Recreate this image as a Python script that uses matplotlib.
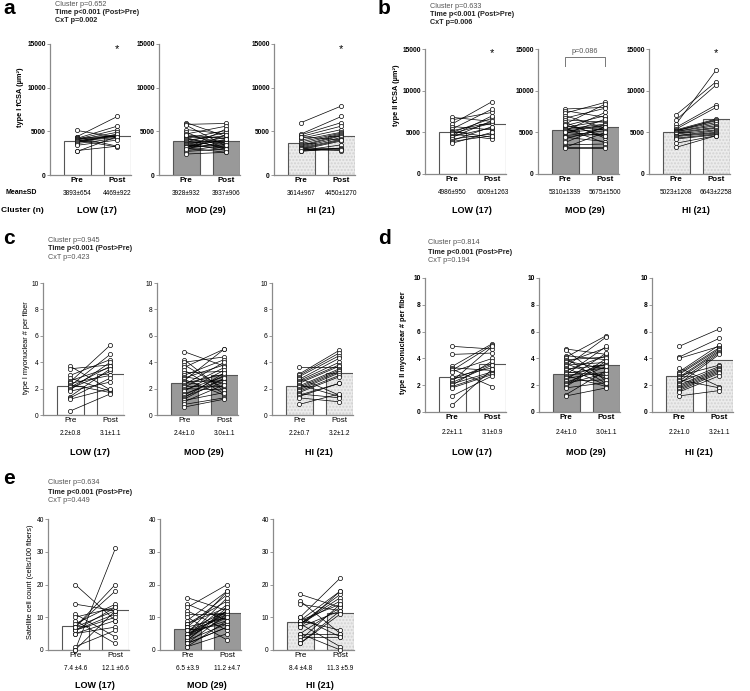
import matplotlib
matplotlib.use('Agg')
import matplotlib.pyplot as plt

plt.rcParams['font.family'] = ['Liberation Sans', 'DejaVu Sans']

W, H = 750, 691
fig = plt.figure(figsize=(7.5, 6.91), dpi=100)

clusters = ['LOW (17)', 'MOD (29)', 'HI (21)']
times = ['Pre', 'Post']

# ---- a: type I fCSA ----
a_low_pre = [5100, 4400, 4300, 4200, 4200, 4100, 4100, 4000, 4000, 3900, 3900, 3800, 3700, 3600, 2800, 2700, 3400]
a_low_post = [4300, 6700, 3300, 5600, 4500, 4400, 5200, 3200, 4900, 4600, 4300, 4500, 4700, 4200, 3300, 4400, 4000]
a_mod_pre = [6000, 5800, 5700, 5200, 4900, 4700, 4500, 4400, 4300, 4200, 4100, 4000, 3900, 3800, 3700,
             3600, 3500, 3400, 3300, 3200, 3100, 3000, 2900, 2800, 2700, 3200, 3000, 2400, 4600]
a_mod_post = [4400, 5900, 3300, 4700, 3000, 5600, 3700, 4200, 2900, 5100, 3600, 4500, 3200, 4900, 3900,
              2800, 4300, 3100, 4000, 3500, 2600, 3800, 4600, 3400, 3000, 4100, 5300, 2600, 4170]
a_hi_pre = [6000, 4700, 4600, 4400, 4200, 4000, 3800, 3600, 3400, 3300, 3200, 3100, 3000, 2900, 2800, 2700, 3100, 2900, 3000, 2800, 4400]
a_hi_post = [7900, 6700, 6000, 5600, 5200, 4900, 4800, 4700, 4600, 4500, 4300, 4100, 4000, 3900, 3450, 3100, 3000, 3000, 2800, 2900, 4000]
a_bar = [(3893, 4469), (3928, 3937), (3614, 4450)]
a_txt = [('3893\u00b1654', '4469\u00b1922'), ('3928\u00b1932', '3937\u00b1906'), ('3614\u00b1967', '4450\u00b11270')]

# ---- b: type II fCSA ----
b_low_pre = [6800, 6500, 6000, 5700, 5400, 5200, 5100, 5000, 4900, 4800, 4600, 4500, 4400, 4200, 4000, 3900, 3700]
b_low_post = [6300, 7400, 8700, 5300, 7800, 6200, 4400, 6700, 6100, 4200, 7000, 5560, 6400, 4800, 5700, 4600, 5000]
b_mod_pre = [7800, 7600, 7300, 7000, 6700, 6500, 6200, 6000, 5800, 5700, 5600, 5500, 5400, 5300, 5100,
             5000, 4800, 4600, 4400, 4200, 5200, 5000, 4500, 3500, 3790, 3300, 3200, 3100, 5900]
b_mod_post = [8000, 6800, 8600, 5500, 7900, 6200, 4300, 8400, 7000, 5300, 6400, 3700, 6000, 5800, 5900,
              4600, 6600, 5200, 3900, 5600, 7400, 5400, 4800, 3600, 5700, 3300, 5000, 3100, 4575]
b_hi_pre = [7100, 6500, 6000, 5600, 5400, 5300, 5200, 5200, 5200, 5100, 5100, 5000, 4900, 4800, 4600, 4600, 4500, 4300, 4200, 3700, 3200]
b_hi_post = [11100, 10700, 12500, 8300, 8000, 6600, 6500, 6400, 6200, 6000, 5800, 5600, 5500, 5300, 5200, 5000, 4900, 4800, 4700, 4600, 4600]
b_bar = [(4986, 6009), (5310, 5675), (5023, 6643)]
b_txt = [('4986\u00b1950', '6009\u00b11263'), ('5310\u00b11339', '5675\u00b11500'), ('5023\u00b11208', '6643\u00b12258')]

# ---- c: type I myonuclear ----
c_low_pre = [3.7, 3.5, 3.0, 2.8, 2.6, 2.5, 2.4, 2.3, 2.2, 2.1, 2.0, 1.9, 1.8, 1.4, 1.3, 1.2, 0.3]
c_low_post = [1.9, 3.8, 4.2, 1.8, 3.6, 5.3, 3.0, 1.7, 4.6, 3.7, 3.3, 4.0, 2.5, 3.5, 2.8, 2.0, 1.6]
c_mod_pre = [4.8, 4.2, 4.0, 3.8, 3.6, 3.4, 3.2, 3.0, 2.9, 2.8, 2.7, 2.6, 2.5, 2.4, 2.3,
             2.2, 2.1, 2.0, 1.9, 1.8, 1.6, 1.5, 1.4, 1.3, 1.2, 1.1, 1.0, 0.8, 0.6]
c_mod_post = [3.7, 1.8, 4.4, 2.0, 5.0, 1.6, 3.3, 4.2, 2.4, 3.8, 1.5, 5.0, 2.6, 3.1, 4.0,
              2.2, 3.6, 1.9, 2.9, 3.4, 2.7, 3.0, 2.5, 3.2, 2.8, 1.7, 2.3, 1.3, 1.2]
c_hi_pre = [3.6, 3.1, 3.0, 2.9, 2.8, 2.7, 2.6, 2.5, 2.4, 2.3, 2.2, 2.1, 2.0, 1.9, 1.8, 1.7, 1.6, 1.5, 1.4, 1.3, 0.8]
c_hi_post = [3.6, 4.9, 4.7, 4.5, 1.5, 4.3, 4.0, 3.8, 3.7, 1.4, 3.5, 3.4, 3.3, 3.2, 3.0, 2.9, 1.3, 2.4, 2.4, 1.0, 1.6]
c_bar = [(2.2, 3.1), (2.4, 3.0), (2.2, 3.2)]
c_txt = [('2.2\u00b10.8', '3.1\u00b11.1'), ('2.4\u00b11.0', '3.0\u00b11.1'), ('2.2\u00b10.7', '3.2\u00b11.2')]

# ---- d: type II myonuclear ----
d_low_pre = [4.9, 4.3, 3.4, 3.3, 3.2, 3.1, 3.0, 2.6, 2.4, 2.3, 2.2, 2.1, 2.0, 1.9, 1.8, 1.2, 0.5]
d_low_post = [4.7, 4.4, 5.1, 3.1, 1.9, 5.0, 4.0, 3.3, 3.6, 4.9, 3.5, 3.0, 3.8, 2.9, 2.8, 2.7, 3.2]
d_mod_pre = [4.7, 4.6, 4.2, 4.1, 4.0, 3.9, 3.8, 3.7, 3.6, 3.5, 3.4, 3.3, 3.2, 3.1, 3.0,
             2.9, 2.8, 2.7, 2.6, 2.5, 2.4, 2.3, 2.2, 2.1, 2.0, 1.9, 1.8, 1.3, 1.2]
d_mod_post = [4.3, 2.3, 3.9, 5.7, 2.1, 4.1, 3.2, 4.8, 2.5, 3.7, 5.6, 2.0, 3.5, 4.2, 2.7,
              3.3, 4.9, 1.9, 3.6, 3.0, 4.4, 2.4, 3.4, 2.9, 4.0, 3.8, 2.2, 3.1, 1.8]
d_hi_pre = [4.9, 4.1, 4.0, 3.3, 3.0, 2.9, 2.8, 2.7, 2.6, 2.5, 2.4, 2.3, 2.2, 2.1, 2.0, 1.9, 1.8, 1.7, 1.6, 1.5, 1.2]
d_hi_post = [6.2, 5.5, 4.9, 1.9, 5.0, 4.8, 4.7, 3.5, 4.6, 4.5, 1.8, 4.4, 3.4, 4.3, 3.3, 3.2, 3.1, 3.0, 2.9, 2.7, 1.6]
d_bar = [(2.6, 3.6), (2.85, 3.5), (2.7, 3.85)]
d_txt = [('2.2\u00b11.1', '3.1\u00b10.9'), ('2.4\u00b11.0', '3.0\u00b11.1'), ('2.2\u00b11.0', '3.2\u00b11.1')]

# ---- e: satellite cells ----
e_low_pre = [20, 14, 11, 10, 9, 8, 7, 7, 6, 6, 6, 5, 5, 1, 0, 0, 7]
e_low_post = [9, 12, 4, 13, 2, 14, 18, 20, 11, 10, 13, 7, 9, 6, 31, 12, 12]
e_mod_pre = [16, 14, 13, 12, 11, 10, 9, 8, 8, 7, 7, 6, 6, 5, 5, 5, 4, 4, 4, 3, 3, 3, 2, 2, 2, 1, 1, 6, 4]
e_mod_post = [12, 9, 20, 6, 11, 3, 18, 13, 15, 10, 17, 12, 8, 18, 11, 9, 14, 16, 10, 13, 12, 8, 7, 11, 7, 5, 9, 10, 12]
e_hi_pre = [17, 15, 14, 10, 10, 9, 9, 9, 8, 8, 8, 8, 7, 7, 5, 5, 5, 4, 3, 2, 2]
e_hi_post = [13, 5, 12, 22, 4, 18, 6, 14, 17, 16, 1, 15, 12, 18, 5, 0, 13, 4, 14, 12, 11]
e_bar = [(7.4, 12.1), (6.5, 11.2), (8.4, 11.3)]
e_txt = [('7.4 \u00b14.6', '12.1 \u00b16.6'), ('6.5 \u00b13.9', '11.2 \u00b14.7'), ('8.4 \u00b14.8', '11.3 \u00b15.9')]

bar_fill = ['white', '#999999', '#ececec']
spine_col = '#8a8a8a'


def add_axes(left, top, bottom, width=81):
    return fig.add_axes([left / W, 1 - bottom / H, width / W, (bottom - top) / H])


def draw_cluster(ax, k, pre, post, bars, txt, yticks, bold, lab_off):
    ax.set_xlim(-0.675, 1.34)
    ax.set_ylim(0, yticks[-1])
    for i in range(2):
        if k == 2:
            ax.bar(i, bars[i], width=0.67, color=bar_fill[k], hatch='.....',
                   edgecolor='#d2d2d2', linewidth=0, zorder=1)
            ax.bar(i, bars[i], width=0.67, color='none', edgecolor='#555555', linewidth=0.8, zorder=2)
        else:
            ax.bar(i, bars[i], width=0.67, color=bar_fill[k], edgecolor='#555555', linewidth=0.8, zorder=2)
    for p, q in zip(pre, post):
        ax.plot([0, 1], [p, q], color='black', lw=0.5, zorder=3)
    ax.plot([0] * len(pre), pre, 'o', ms=3, mfc='white', mec='black', mew=0.5, zorder=4, clip_on=False)
    ax.plot([1] * len(post), post, 'o', ms=3, mfc='white', mec='black', mew=0.5, zorder=4, clip_on=False)
    for s in ['top', 'right']:
        ax.spines[s].set_visible(False)
    for s in ['left', 'bottom']:
        ax.spines[s].set_color(spine_col)
        ax.spines[s].set_linewidth(0.9)
    ax.set_yticks(yticks)
    ax.set_yticklabels([str(t) for t in yticks], fontsize=4.8, fontweight='bold' if bold else 'normal')
    ax.tick_params(axis='y', length=2, width=0.6, color=spine_col, pad=1)
    ax.set_xticks([0, 1])
    ax.set_xticklabels(times, fontsize=5.8, fontweight='bold' if bold else 'normal')
    ax.tick_params(axis='x', length=0, pad=1.5)
    for i in range(2):
        ax.annotate(txt[i], (i, 0), xycoords=('data', 'axes fraction'), xytext=(0, -lab_off[0]),
                    textcoords='offset points', ha='center', va='center', fontsize=4.7)
    ax.annotate(clusters[k], (0.5, 0), xycoords=('data', 'axes fraction'), xytext=(0, -lab_off[1]),
                textcoords='offset points', ha='center', va='center', fontsize=6.5, fontweight='bold')


panels = [
    dict(letter='a', lx=3, ly=9, lefts=[50, 159, 274], top=44, bottom=175,
         data=[(a_low_pre, a_low_post), (a_mod_pre, a_mod_post), (a_hi_pre, a_hi_post)],
         bars=a_bar, txt=a_txt, yticks=[0, 5000, 10000, 15000], bold=True,
         stats=('Cluster p=0.652', 'Time p<0.001 (Post>Pre)', 'CxT p=0.002'), cxt_bold=True,
         sx=55, sy=[4, 13, 21], ylab='type I fCSA (\u00b5m\u00b2)', ylx=21, yly=97,
         stars=[0, 2], off=(13, 25.5)),
    dict(letter='b', lx=378, ly=9, lefts=[425, 538, 649], top=49, bottom=174,
         data=[(b_low_pre, b_low_post), (b_mod_pre, b_mod_post), (b_hi_pre, b_hi_post)],
         bars=b_bar, txt=b_txt, yticks=[0, 5000, 10000, 15000], bold=True,
         stats=('Cluster p=0.633', 'Time p<0.001 (Post>Pre)', 'CxT p=0.006'), cxt_bold=True,
         sx=430, sy=[7, 15, 23], ylab='type II fCSA (\u00b5m\u00b2)', ylx=396, yly=95,
         stars=[0, 2], off=(13, 26)),
    dict(letter='c', lx=3, ly=238, lefts=[43, 157, 272], top=283, bottom=415,
         data=[(c_low_pre, c_low_post), (c_mod_pre, c_mod_post), (c_hi_pre, c_hi_post)],
         bars=c_bar, txt=c_txt, yticks=[0, 2, 4, 6, 8, 10], bold=False,
         stats=('Cluster p=0.945', 'Time p<0.001 (Post>Pre)', 'CxT p=0.423'), cxt_bold=False,
         sx=48, sy=[240, 249, 257], ylab='type I myonuclear # per fiber', ylx=27, yly=348,
         stars=[], off=(13, 27)),
    dict(letter='d', lx=378, ly=238, lefts=[425, 539, 652], top=278, bottom=412,
         data=[(d_low_pre, d_low_post), (d_mod_pre, d_mod_post), (d_hi_pre, d_hi_post)],
         bars=d_bar, txt=d_txt, yticks=[0, 2, 4, 6, 8, 10], bold=True,
         stats=('Cluster p=0.814', 'Time p<0.001 (Post>Pre)', 'CxT p=0.194'), cxt_bold=False,
         sx=428, sy=[243, 252, 260], ylab='type II myonuclear # per fiber', ylx=404, yly=343,
         stars=[], off=(15, 29)),
    dict(letter='e', lx=3, ly=478, lefts=[48, 160, 273], top=519, bottom=650,
         data=[(e_low_pre, e_low_post), (e_mod_pre, e_mod_post), (e_hi_pre, e_hi_post)],
         bars=e_bar, txt=e_txt, yticks=[0, 10, 20, 30, 40], bold=False,
         stats=('Cluster p=0.634', 'Time p<0.001 (Post>Pre)', 'CxT p=0.449'), cxt_bold=False,
         sx=48, sy=[483, 492, 501], ylab='Satellite cell count (cells/100 fibers)', ylx=30, yly=582,
         stars=[], off=(13, 25.5)),
]

for P in panels:
    fig.text(P['lx'] / W, 1 - P['ly'] / H, P['letter'], fontsize=15, fontweight='bold', ha='left', va='center')
    fig.text(P['sx'] / W, 1 - P['sy'][0] / H, P['stats'][0], fontsize=5.2, color='#555555', va='center')
    fig.text(P['sx'] / W, 1 - P['sy'][1] / H, P['stats'][1], fontsize=5.2, fontweight='bold', color='#222222', va='center')
    fig.text(P['sx'] / W, 1 - P['sy'][2] / H, P['stats'][2], fontsize=5.2,
             fontweight='bold' if P['cxt_bold'] else 'normal',
             color='#222222' if P['cxt_bold'] else '#555555', va='center')
    fig.text(P['ylx'] / W, 1 - P['yly'] / H, P['ylab'], fontsize=5.3, rotation=90, ha='center', va='center',
             fontweight='bold' if P['letter'] in 'abd' else 'normal')
    for k in range(3):
        ax = add_axes(P['lefts'][k], P['top'], P['bottom'])
        pre, post = P['data'][k]
        draw_cluster(ax, k, pre, post, P['bars'][k], P['txt'][k], P['yticks'], P['bold'], P['off'])
        if k in P['stars']:
            ax.text(1, P['yticks'][-1] * 0.965, '*', ha='center', va='center', fontsize=8)
        if P['letter'] == 'b' and k == 1:
            ax.plot([0, 0, 1, 1], [13000, 14100, 14100, 13000], color='#777777', lw=0.7, clip_on=False)
            ax.text(0.5, 14650, 'p=0.086', ha='center', va='center', fontsize=5.2, color='#555555')

fig.text(6 / W, 1 - 193 / H, 'Mean\u00b1SD', fontsize=5, fontweight='bold', va='center')
fig.text(1 / W, 1 - 210 / H, 'Cluster (n)', fontsize=6, fontweight='bold', va='center')

fig.savefig('out.png', dpi=100)
